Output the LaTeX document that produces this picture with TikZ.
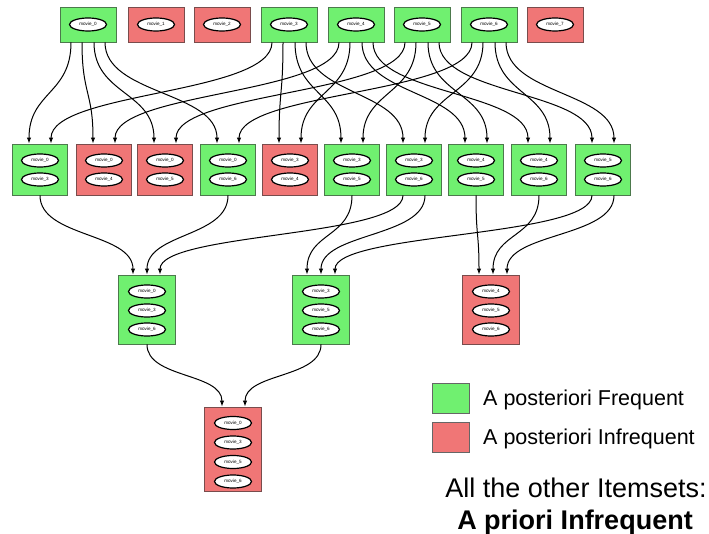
\documentclass[tikz,border=0pt]{standalone}
\usepackage{fontspec}
\setmainfont{Liberation Sans}
\usetikzlibrary{arrows.meta,shapes.geometric}
\definecolor{fgreen}{RGB}{112,240,112}
\definecolor{fred}{RGB}{240,118,118}
\tikzset{
  setbox/.style={draw=black!60, line width=0.9pt, inner sep=0pt, minimum width=56pt},
  fr/.style={setbox, fill=fgreen, draw=green!25!black!70},
  inf/.style={setbox, fill=fred, draw=red!25!black!70},
  item/.style={draw=black, fill=white, line width=1.2pt, ellipse, inner sep=0pt,
    minimum width=37pt, minimum height=13pt, font=\fontsize{4.6}{5}\selectfont},
  edge/.style={draw=black, line width=1pt, -{Latex[length=6pt,width=4.5pt]}},
  legsq/.style={draw=black!60, line width=0.8pt, minimum width=37pt, minimum height=30pt, inner sep=0pt},
  legtxt/.style={anchor=base west, inner sep=0pt, font=\fontsize{21.5}{25}\selectfont},
  bigtxt/.style={anchor=base, inner sep=0pt, font=\fontsize{27}{31}\selectfont}
}
\begin{document}
\begin{tikzpicture}[x=1pt,y=-1pt]
\useasboundingbox (0,0) rectangle (709,534);
% ---- level 1
\foreach \n/\x/\s/\l in {T1/88/fr/0, T2/156/inf/1, T3/222/inf/2, T4/289/fr/3, T5/356/fr/4, T6/422/fr/5, T7/489/fr/6, T8/555/inf/7}{
  \node[\s, minimum height=35pt] (\n) at (\x,24.5) {};
  \node[item] (\n e1) at (\x,24.5) {movie\_\l};
}
% ---- level 2
\foreach \n/\x/\s/\a/\b in {M1/40/fr/0/3, M2/104/inf/0/4, M3/165/inf/0/5, M4/228/fr/0/6, M5/290/inf/3/4, M6/352/fr/3/5, M7/414/fr/3/6, M8/476/fr/4/5, M9/539/fr/4/6, M10/603/fr/5/6}{
  \node[\s, minimum width=55pt, minimum height=51pt] (\n) at (\x,169.5) {};
  \node[item] (\n e1) at (\x,160.5) {movie\_\a};
  \node[item] (\n e2) at (\x,179.5) {movie\_\b};
}
% ---- level 3
\foreach \n/\x/\s/\a/\b/\c in {R1/147/fr/0/3/6, R2/321/fr/3/5/6, R3/491/inf/4/5/6}{
  \node[\s, minimum width=57pt, minimum height=69pt] (\n) at (\x,309.5) {};
  \node[item] (\n e1) at (\x,291.5) {movie\_\a};
  \node[item] (\n e2) at (\x,310.5) {movie\_\b};
  \node[item] (\n e3) at (\x,329.5) {movie\_\c};
}
% ---- level 4
\node[inf, minimum width=57pt, minimum height=84pt] (F) at (233,449) {};
\node[item] (Fe1) at (233,423) {movie\_0};
\node[item] (Fe2) at (233,442.5) {movie\_3};
\node[item] (Fe3) at (233,462) {movie\_5};
\node[item] (Fe4) at (233,481.5) {movie\_6};
% ---- edges level 1 -> 2
\foreach \s/\so/\t/\to in {
  T1/-17/M1/-11, T1/-6/M2/-11, T1/6/M3/-11, T1/17/M4/-11,
  T4/-17/M1/11, T4/-6/M5/-11, T4/6/M6/-11, T4/17/M7/-11,
  T5/-17/M2/11, T5/-6/M5/11, T5/6/M8/-11, T5/17/M9/-11,
  T6/-17/M3/11, T6/-6/M6/11, T6/6/M8/11, T6/17/M10/-11,
  T7/-17/M4/11, T7/-6/M7/11, T7/6/M9/11, T7/17/M10/11}{
  \draw[edge] ([xshift=\so pt]\s.south) .. controls +(0,52) and +(0,-52) .. ([xshift=\to pt]\t.north);
}
% ---- edges level 2 -> 3
\foreach \s/\so/\t/\to in {
  M1/0/R1/-14, M4/0/R1/0, M7/-11/R1/13,
  M6/0/R2/-14, M7/11/R2/0, M10/-11/R2/14,
  M8/0/R3/-12, M9/0/R3/2, M10/11/R3/16}{
  \draw[edge] ([xshift=\so pt]\s.south) .. controls +(0,42) and +(0,-42) .. ([xshift=\to pt]\t.north);
}
% ---- edges level 3 -> 4
\draw[edge] (R1.south) .. controls +(0,34) and +(0,-34) .. ([xshift=-11pt]F.north);
\draw[edge] (R2.south) .. controls +(0,34) and +(0,-34) .. ([xshift=12pt]F.north);
% ---- legend
\node[legsq, fill=fgreen] (lg) at (451,398.5) {};
\node[legsq, fill=fred] (lr) at (451,437) {};
\node[legtxt] (lgt) at (483,405.5) {A posteriori Frequent};
\node[legtxt] (lrt) at (483,444.5) {A posteriori Infrequent};
\node[bigtxt] (all) at (576,497) {All the other Itemsets:};
\node[bigtxt, font=\fontsize{27}{31}\selectfont\bfseries] (apr) at (575,529) {A priori Infrequent};
\end{tikzpicture}
\end{document}
